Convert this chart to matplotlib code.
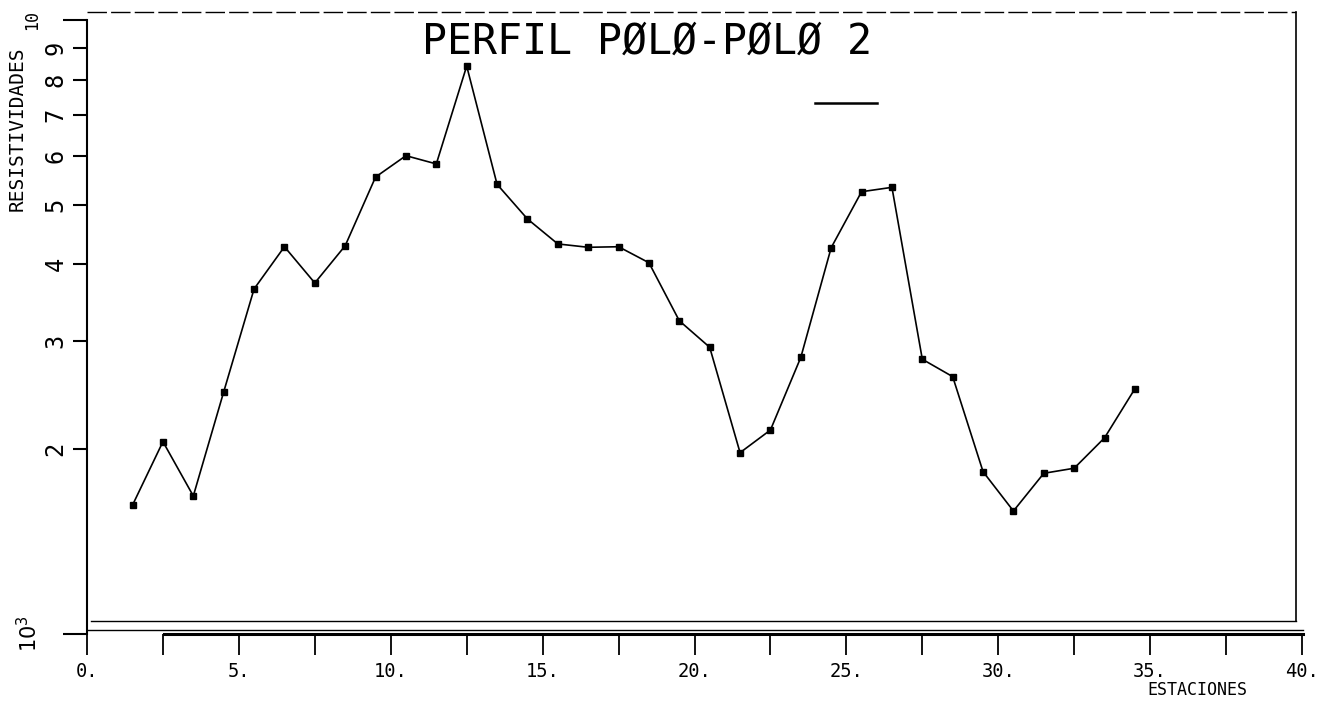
import numpy as np
import matplotlib.pyplot as plt
from matplotlib.lines import Line2D

# stations (x) and apparent resistivity (ohm*m)
estaciones = [1.5, 2.5, 3.5, 4.5, 5.5, 6.5, 7.5, 8.5, 9.5, 10.5, 11.5, 12.5,
              13.5, 14.5, 15.5, 16.5, 17.5, 18.5, 19.5, 20.5, 21.5, 22.5, 23.5,
              24.5, 25.5, 26.5, 27.5, 28.5, 29.5, 30.5, 31.5, 32.5, 33.5, 34.5]
resistividad = [1622, 2057, 1678, 2479, 3647, 4273, 3730, 4289, 5549, 6012, 5829, 8414,
                5400, 4742, 4318, 4264, 4273, 4024, 3237, 2931, 1974, 2149, 2822,
                4258, 5252, 5339, 2802, 2625, 1838, 1586, 1827, 1862, 2087, 2509]

x_major = [0, 5, 10, 15, 20, 25, 30, 35, 40]
x_major_labels = ["0.", "5.", "10.", "15.", "20.", "25.", "30.", "35.", "40."]
x_minor = [2.5, 7.5, 12.5, 17.5, 22.5, 27.5, 32.5, 37.5]
y_major = [1000, 10000]
y_major_labels = ["$10^3$", "10"]
y_minor = [2000, 3000, 4000, 5000, 6000, 7000, 8000, 9000]
y_minor_labels = ["2", "3", "4", "5", "6", "7", "8", "9"]

titulo = "PERFIL PØLØ-PØLØ 2"
FONT = "DejaVu Sans Mono"
W, H = 1323, 702

plt.rcParams["font.family"] = FONT
fig = plt.figure(figsize=(W / 100, H / 100), dpi=100)
ax = fig.add_axes([87 / W, 68 / H, 1215 / W, 614 / H])

ax.plot(estaciones, resistividad, color="black", lw=1.2,
        marker="s", markersize=3.8, markerfacecolor="black")

ax.set_yscale("log")
ax.set_xlim(0, 40)
ax.set_ylim(1000, 10000)

ax.set_xticks(x_major)
ax.set_xticklabels(x_major_labels)
ax.set_xticks(x_minor, minor=True)
ax.tick_params(axis="x", which="both", direction="out", length=15, width=1.3,
               labelsize=13.5, pad=5)

ax.set_yticks(y_major)
ax.set_yticklabels(y_major_labels)
ax.set_yticks(y_minor, minor=True)
ax.set_yticklabels(y_minor_labels, minor=True)
ax.tick_params(axis="y", which="major", direction="out", length=17, width=1.5,
               labelsize=12, pad=16, labelrotation=90)
ax.tick_params(axis="y", which="minor", direction="out", length=10, width=1.5,
               labelsize=17, pad=4, labelrotation=90)
for lbl in ax.get_yticklabels(which="both"):
    lbl.set_va("center")
ax.get_yticklabels()[0].set_fontsize(15)

for s in ["top", "right", "bottom"]:
    ax.spines[s].set_visible(False)
ax.spines["left"].set_linewidth(1.5)

# plotter frame and doubled base line
tr = ax.transAxes
ax.add_line(Line2D([0, 0.995], [1.013, 1.013], transform=tr, color="black", lw=1.0,
                   ls=(0, (14, 3)), clip_on=False))
ax.add_line(Line2D([0.995, 0.995], [0.021, 1.013], transform=tr, color="black", lw=1.2,
                   clip_on=False))
ax.add_line(Line2D([0.003, 0.995], [0.021, 0.021], transform=tr, color="black", lw=1.0,
                   clip_on=False))
ax.add_line(Line2D([0, 1.001], [0.006, 0.006], transform=tr, color="black", lw=1.0,
                   clip_on=False))
ax.add_line(Line2D([0.063, 1.001], [0.0, 0.0], transform=tr, color="black", lw=2.2,
                   clip_on=False))

fig.text(647 / W, 1 - 42 / H, titulo, ha="center", va="center", fontsize=30)
fig.add_artist(Line2D([815 / W, 877 / W], [1 - 103 / H, 1 - 103 / H], color="black", lw=1.8))
fig.text(17 / W, 1 - 129 / H, "RESISTIVIDADES", rotation=90, ha="center", va="center",
         fontsize=14)
fig.text(1197 / W, 1 - 690 / H, "ESTACIONES", ha="center", va="center", fontsize=12)

fig.savefig("out.png", dpi=100, facecolor="white")
